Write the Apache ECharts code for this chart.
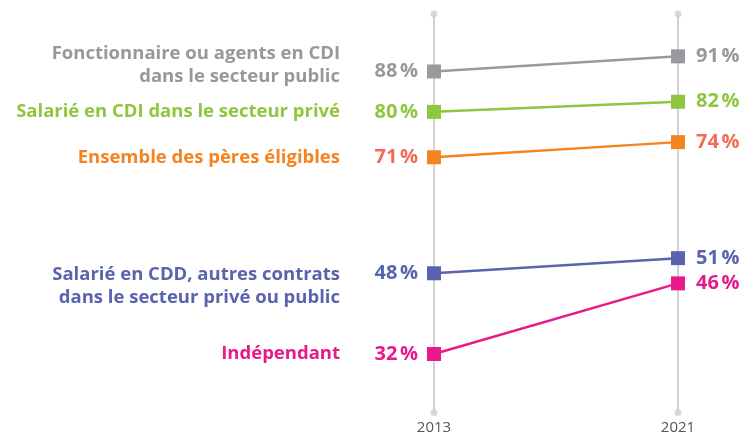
<!DOCTYPE html>
<html>
<head>
<meta charset="utf-8">
<script src="https://cdn.jsdelivr.net/npm/echarts@6/dist/echarts.min.js"></script>
<style>
  html, body { margin: 0; padding: 0; background: #ffffff; }
  #chart { width: 745px; height: 436px; }
</style>
</head>
<body>
<div id="chart"></div>
<script>
// Taux de recours au congé de paternité selon le statut d'emploi
const years = ['2013', '2021'];
const groups = [
  'Fonctionnaire ou agents en CDI\ndans le secteur public',
  'Salarié en CDI dans le secteur privé',
  'Ensemble des pères éligibles',
  'Salarié en CDD, autres contrats\ndans le secteur privé ou public',
  'Indépendant'
];
const rate2013 = [88, 80, 71, 48, 32];
const rate2021 = [91, 82, 74, 51, 46];

// Vertical extent of the year guides
const guideTop = 99.4;
const guideBottom = 20.4;

// Styling per group
const lineColors  = ['#9a9a9e', '#8dc63f', '#f5831f', '#5a63ae', '#e8198b'];
const valueColors = ['#98989c', '#8dc63f', '#f26b57', '#5a63ae', '#e8198b'];
const nameColors  = ['#98989c', '#8dc63f', '#f5831f', '#5a63ae', '#e8198b'];
const nameOffsets = [[0, -6], [0, 0], [0, 0], [0, 13], [0, 0]];

const FONT = '"Open Sans", sans-serif';

const chart = echarts.init(document.getElementById('chart'), null, { renderer: 'canvas' });

const series = groups.map((g, i) => ({
  type: 'line',
  name: g,
  z: 3,
  symbol: 'rect',
  symbolSize: 14,
  lineStyle: { width: 2.5, color: lineColors[i] },
  itemStyle: { color: lineColors[i] },
  label: {
    show: true,
    formatter: p => p.value + '\u202f%',
    fontFamily: FONT,
    fontSize: 20,
    fontWeight: 'bold',
    color: valueColors[i]
  },
  data: [
    { value: rate2013[i], label: { position: 'left', distance: 9 } },
    { value: rate2021[i], label: { position: 'right', distance: 11 } }
  ],
  markPoint: {
    symbol: 'rect',
    symbolSize: 0,
    silent: true,
    data: [{ coord: [years[0], rate2013[i]], name: g }],
    label: {
      show: true,
      position: 'left',
      distance: 94,
      offset: nameOffsets[i],
      formatter: '{b}',
      fontFamily: FONT,
      fontSize: 18.5,
      fontWeight: 'bold',
      lineHeight: 23,
      color: nameColors[i]
    }
  }
}));

// End dots of the year guides
series.unshift({
  type: 'scatter',
  silent: true,
  z: 1,
  symbol: 'circle',
  symbolSize: 7,
  itemStyle: { color: '#cfcfcf' },
  data: years.flatMap(y => [[y, guideTop], [y, guideBottom]])
});

chart.setOption({
  animation: false,
  grid: { left: 434, right: 67, top: 14, bottom: 23.5 },
  xAxis: {
    type: 'category',
    data: years,
    boundaryGap: false,
    axisLine: { show: false },
    axisTick: { show: false },
    splitLine: { show: true, lineStyle: { color: '#d2d2d2', width: 2 } },
    axisLabel: { color: '#555555', fontSize: 15, margin: 8, fontFamily: FONT }
  },
  yAxis: {
    type: 'value',
    min: guideBottom,
    max: guideTop,
    show: false
  },
  series: series
});
</script>
</body>
</html>
